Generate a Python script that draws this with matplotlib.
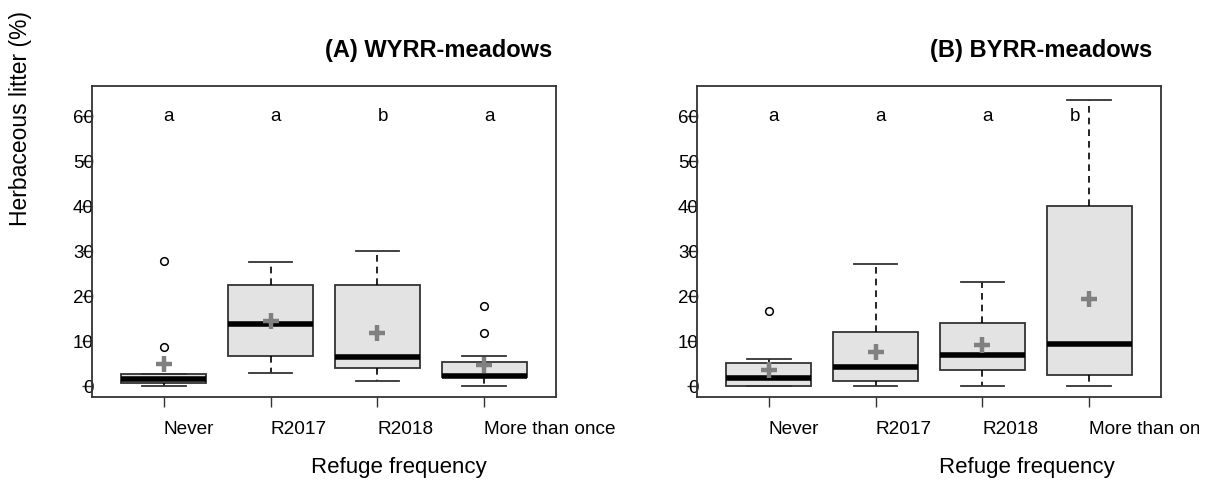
import matplotlib
matplotlib.use("Agg")
import matplotlib.pyplot as plt
from matplotlib.transforms import Bbox

plt.rcParams['font.family'] = ['Liberation Sans', 'DejaVu Sans']

categories = ["Never", "R2017", "R2018", "More than once"]

# Panel A: WYRR-meadows
a_q1 = [0.6, 6.7, 3.9, 1.9]
a_med = [1.6, 13.7, 6.4, 2.3]
a_q3 = [2.7, 22.4, 22.4, 5.4]
a_wlo = [0.0, 3.0, 1.2, 0.0]
a_whi = [2.7, 27.6, 30.1, 6.7]
a_mean = [4.8, 14.5, 11.8, 4.6]
a_out = [[27.8, 8.7], [], [], [17.8, 11.7]]
a_letters = ["a", "a", "b", "a"]

# Panel B: BYRR-meadows
b_q1 = [0.0, 1.2, 3.6, 2.4]
b_med = [1.8, 4.3, 7.0, 9.4]
b_q3 = [5.1, 12.1, 13.9, 40.1]
b_wlo = [0.0, 0.0, 0.0, 0.0]
b_whi = [6.1, 27.1, 23.2, 63.6]
b_mean = [3.6, 7.6, 9.1, 19.4]
b_out = [[16.6], [], [], []]
b_letters = ["a", "a", "a", "b"]

yticks = [0, 10, 20, 30, 40, 50, 60]

W, H = 1210, 483
fig = plt.figure(figsize=(W / 100, H / 100), dpi=100)

def make_panel(left_px, q1, med, q3, wlo, whi, mean, out, letters, letter_dx, title, title_x_px):
    ax = fig.add_axes([left_px / W, 86 / H, 464 / W, 311 / H])
    stats = []
    for i in range(4):
        stats.append(dict(q1=q1[i], med=med[i], q3=q3[i], whislo=wlo[i],
                          whishi=whi[i], fliers=out[i], label=categories[i]))
    pos = [1, 2, 3, 4]
    ax.bxp(stats, positions=pos, widths=0.8, patch_artist=True, showfliers=True,
           boxprops=dict(facecolor="#e3e3e3", edgecolor="#333333", linewidth=1.3),
           medianprops=dict(color="black", linewidth=4, solid_capstyle="butt"),
           whiskerprops=dict(color="black", linewidth=1.2, linestyle=(0, (4, 3))),
           capprops=dict(color="#333333", linewidth=1.3),
           capwidths=0.41,
           flierprops=dict(marker="o", markerfacecolor="none", markeredgecolor="black",
                           markersize=5.5, markeredgewidth=1.1))
    ax.plot(pos, mean, linestyle="none", marker="+", markersize=11, markeredgewidth=3.2,
            color="#808080", zorder=5)
    for i, L in enumerate(letters):
        ax.text(pos[i] + letter_dx[i], 60, L, ha="center", va="center", fontsize=13.5)
    ax.set_xlim(0.33, 4.67)
    ax.set_ylim(-2.44, 66.67)
    ax.set_yticks(yticks)
    ax.set_yticklabels([str(t) for t in yticks])
    ax.set_xticks(pos)
    ax.set_xticklabels(categories, ha="left")
    ax.tick_params(axis="y", length=7.2, width=1, color="#333333", pad=-8.5, labelsize=13.5)
    ax.tick_params(axis="x", length=7.2, width=1, color="#333333", pad=10, labelsize=13.7)
    for s in ax.spines.values():
        s.set_color("#333333")
        s.set_linewidth(1.3)
    fig.text(title_x_px / W, 1 - 50 / H, title, ha="left", va="center",
             fontsize=17, fontweight="bold")
    return ax

axA = make_panel(92, a_q1, a_med, a_q3, a_wlo, a_whi, a_mean, a_out, a_letters,
                 [0.05, 0.05, 0.05, 0.05], "(A) WYRR-meadows", 325)
axB = make_panel(697, b_q1, b_med, b_q3, b_wlo, b_whi, b_mean, b_out, b_letters,
                 [0.05, 0.05, 0.05, -0.13], "(B) BYRR-meadows", 930)

# the reference device region cuts the last label of panel B
clip = Bbox.from_extents(0, 0, 1199, H)
for lab in axB.get_xticklabels():
    lab.set_clip_box(clip)
    lab.set_clip_on(True)

fig.text(399 / W, 1 - 468 / H, "Refuge frequency", ha="center", va="center", fontsize=16)
fig.text(1027 / W, 1 - 468 / H, "Refuge frequency", ha="center", va="center", fontsize=16)
fig.text(21 / W, 1 - 118 / H, "Herbaceous litter (%)", ha="center", va="center",
         rotation=90, fontsize=16.5)

fig.savefig("out.png", dpi=100)
